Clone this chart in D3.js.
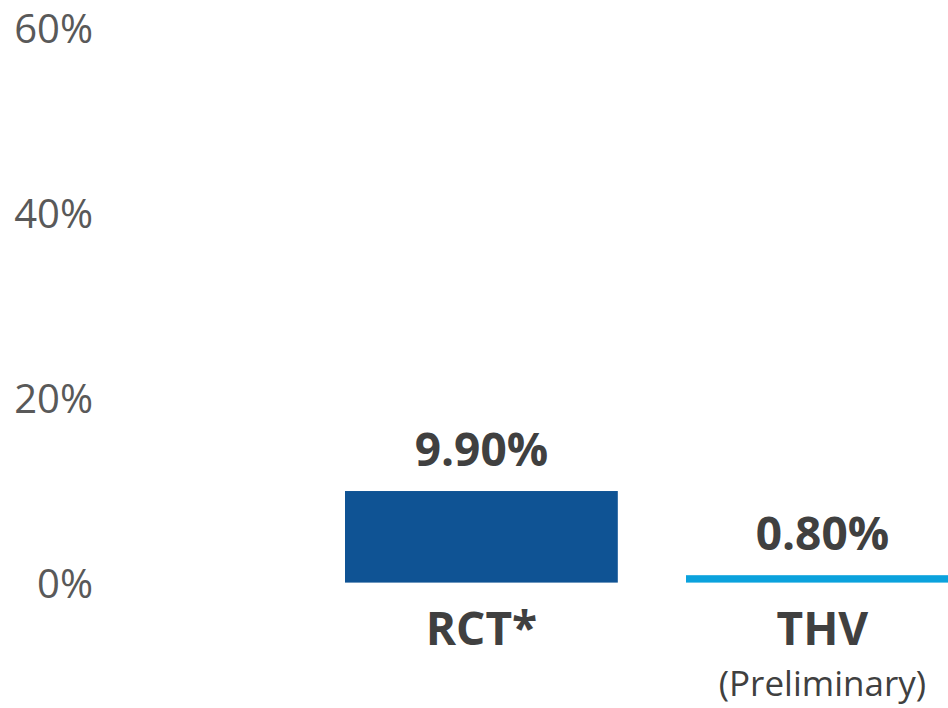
<!DOCTYPE html>
<html>
<head>
<meta charset="utf-8">
<script src="https://cdn.jsdelivr.net/npm/d3@7"></script>
<style>
  html, body { margin: 0; padding: 0; background: #ffffff; }
  svg { display: block; }
</style>
</head>
<body>
<svg id="chart" width="948" height="708"></svg>
<script>
const categories = ["RCT*", "THV"];
const subLabels = ["", "(Preliminary)"];
const values = [9.9, 0.8];
const valueLabels = ["9.90%", "0.80%"];
const barColors = ["#0F5394", "#0BA2DD"];
const tickValues = [0, 20, 40, 60];

const svg = d3.select("#chart");
const font = "'Open Sans', 'Noto Sans', sans-serif";

const y = d3.scaleLinear().domain([0, 60]).range([582.6, 27.6]);
const x = d3.scaleBand().domain(categories).range([310.9, 992.9])
  .paddingInner(0.2).paddingOuter(0.1);

// y axis labels (no line, no ticks)
const yAxis = d3.axisLeft(y).tickValues(tickValues).tickFormat(d => d + "%").tickSize(0).tickPadding(0);
const yg = svg.append("g").attr("transform", "translate(93,0)").call(yAxis);
yg.select(".domain").remove();
yg.selectAll("text")
  .attr("font-family", font)
  .attr("font-size", 40)
  .attr("fill", "#595959")
  .attr("dy", "0.36em");

// bars
svg.selectAll("rect.bar").data(values).join("rect")
  .attr("class", "bar")
  .attr("x", (d, i) => x(categories[i]))
  .attr("width", x.bandwidth())
  .attr("y", d => y(d))
  .attr("height", d => y(0) - y(d))
  .attr("fill", (d, i) => barColors[i]);

// value labels
svg.selectAll("text.val").data(values).join("text")
  .attr("class", "val")
  .attr("x", (d, i) => x(categories[i]) + x.bandwidth() / 2)
  .attr("y", d => y(d) - 25)
  .attr("text-anchor", "middle")
  .attr("font-family", font)
  .attr("font-weight", "bold")
  .attr("font-size", 46)
  .attr("fill", "#404040")
  .text((d, i) => valueLabels[i]);

// category labels
svg.selectAll("text.cat").data(categories).join("text")
  .attr("class", "cat")
  .attr("x", d => x(d) + x.bandwidth() / 2)
  .attr("y", 645)
  .attr("text-anchor", "middle")
  .attr("font-family", font)
  .attr("font-weight", "bold")
  .attr("font-size", 46)
  .attr("fill", "#404040")
  .text(d => d);

svg.selectAll("text.sub").data(categories).join("text")
  .attr("class", "sub")
  .attr("x", d => x(d) + x.bandwidth() / 2)
  .attr("y", 696)
  .attr("text-anchor", "middle")
  .attr("font-family", font)
  .attr("font-size", 35)
  .attr("fill", "#404040")
  .text((d, i) => subLabels[i]);
</script>
</body>
</html>
